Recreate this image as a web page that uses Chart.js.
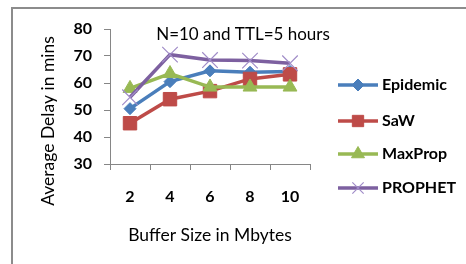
<!DOCTYPE html>
<html>
<head>
<meta charset="utf-8">
<script src="https://cdn.jsdelivr.net/npm/chart.js@4.4.1/dist/chart.umd.min.js"></script>
<style>
html,body{margin:0;padding:0;background:#fff;}
#wrap{position:relative;width:466px;height:264px;}
</style>
</head>
<body>
<div id="wrap"><canvas id="c" width="466" height="264"></canvas></div>
<script>
const categories = ['2', '4', '6', '8', '10'];
const epidemic = [50.5, 60.5, 64.5, 64.0, 64.3];
const saw = [45.1, 54.0, 57.0, 61.5, 63.2];
const maxprop = [58.0, 63.5, 58.5, 58.5, 58.5];
const prophet = [54.7, 70.5, 68.5, 68.3, 67.3];
const yTicks = [30, 40, 50, 60, 70, 80];
const chartTitle = 'N=10 and TTL=5 hours';
const xTitle = 'Buffer Size in Mbytes';
const yTitle = 'Average Delay in mins';

const FONT = 'Lato, "Open Sans", sans-serif';

function drawMark(ctx, ds, x, y, r) {
  ctx.save();
  ctx.fillStyle = ds.pointBackgroundColor;
  ctx.strokeStyle = ds.pointBorderColor;
  ctx.lineWidth = ds.pointBorderWidth || 1;
  Chart.helpers.drawPoint(ctx, {pointStyle: ds.pointStyle, radius: r, borderWidth: ds.pointBorderWidth || 1, rotation: 0}, x, y);
  ctx.restore();
}

const decor = {
  id: 'decor',
  beforeDraw(chart) {
    const ctx = chart.ctx;
    ctx.save();
    ctx.strokeStyle = '#8c8c8c';
    ctx.lineWidth = 2;
    ctx.strokeRect(12, 8, 470, 280);
    ctx.restore();
  },
  afterDraw(chart) {
    const ctx = chart.ctx;
    ctx.save();
    ctx.fillStyle = '#000';
    ctx.textBaseline = 'middle';
    ctx.textAlign = 'center';
    ctx.font = '17px ' + FONT;
    ctx.fillText(chartTitle, 243, 35);
    ctx.font = '17.5px ' + FONT;
    ctx.fillText(xTitle, 210, 235);
    ctx.translate(48, 121);
    ctx.rotate(-Math.PI / 2);
    ctx.fillText(yTitle, 0, 0);
    ctx.restore();
    // legend
    ctx.save();
    const ys = [85, 121, 154, 188];
    const lr = [6, 8, 7.5, 8];
    chart.data.datasets.forEach((ds, i) => {
      const y = ys[i];
      ctx.strokeStyle = ds.borderColor;
      ctx.lineWidth = 3.5;
      ctx.beginPath();
      ctx.moveTo(338, y);
      ctx.lineTo(378, y);
      ctx.stroke();
      drawMark(ctx, ds, 358, y, lr[i]);
      ctx.fillStyle = '#000';
      ctx.font = 'bold 16px ' + FONT;
      ctx.textAlign = 'left';
      ctx.textBaseline = 'middle';
      ctx.fillText(ds.label, 382, y);
    });
    ctx.restore();
  }
};

function mk(label, data, color, style, radius, order, ptColor, ptBorderW) {
  return {
    label, data, order,
    borderColor: color,
    backgroundColor: color,
    borderWidth: 3.5,
    pointStyle: style,
    pointRadius: radius,
    pointHoverRadius: radius,
    pointBackgroundColor: ptColor || color,
    pointBorderColor: ptColor || color,
    pointBorderWidth: ptBorderW || 1,
    tension: 0,
    fill: false
  };
}

new Chart(document.getElementById('c'), {
  type: 'line',
  data: {
    labels: categories,
    datasets: [
      mk('Epidemic', epidemic, '#4A7EBB', 'rectRot', 6, 4),
      mk('SaW', saw, '#BE4B48', 'rect', 9.5, 3),
      mk('MaxProp', maxprop, '#98B954', 'triangle', 8, 2),
      mk('PROPHET', prophet, '#7D60A0', 'crossRot', 11, 1, '#A08CC8', 1.2)
    ]
  },
  options: {
    responsive: false,
    animation: false,
    events: [],
    layout: { padding: { left: 0, right: 156, top: 29, bottom: 0 } },
    plugins: { legend: { display: false }, title: { display: false }, tooltip: { enabled: false } },
    scales: {
      x: {
        offset: true,
        grid: { offset: true, drawOnChartArea: false, drawTicks: true, tickLength: 6, tickColor: '#868686' },
        border: { color: '#868686', width: 1 },
        ticks: { color: '#000', font: { family: FONT, size: 16, weight: 'bold' }, padding: 17, maxRotation: 0 },
        afterFit(s) { s.height = 100; }
      },
      y: {
        min: 30, max: 80,
        afterBuildTicks(s) { s.ticks = yTicks.map(v => ({ value: v })); },
        grid: { drawOnChartArea: false, drawTicks: true, tickLength: 6, tickColor: '#868686' },
        border: { color: '#868686', width: 1 },
        ticks: { color: '#000', font: { family: FONT, size: 16, weight: 'bold' }, padding: 12 },
        afterFit(s) { s.width = 110; }
      }
    }
  },
  plugins: [decor]
});
</script>
</body>
</html>
